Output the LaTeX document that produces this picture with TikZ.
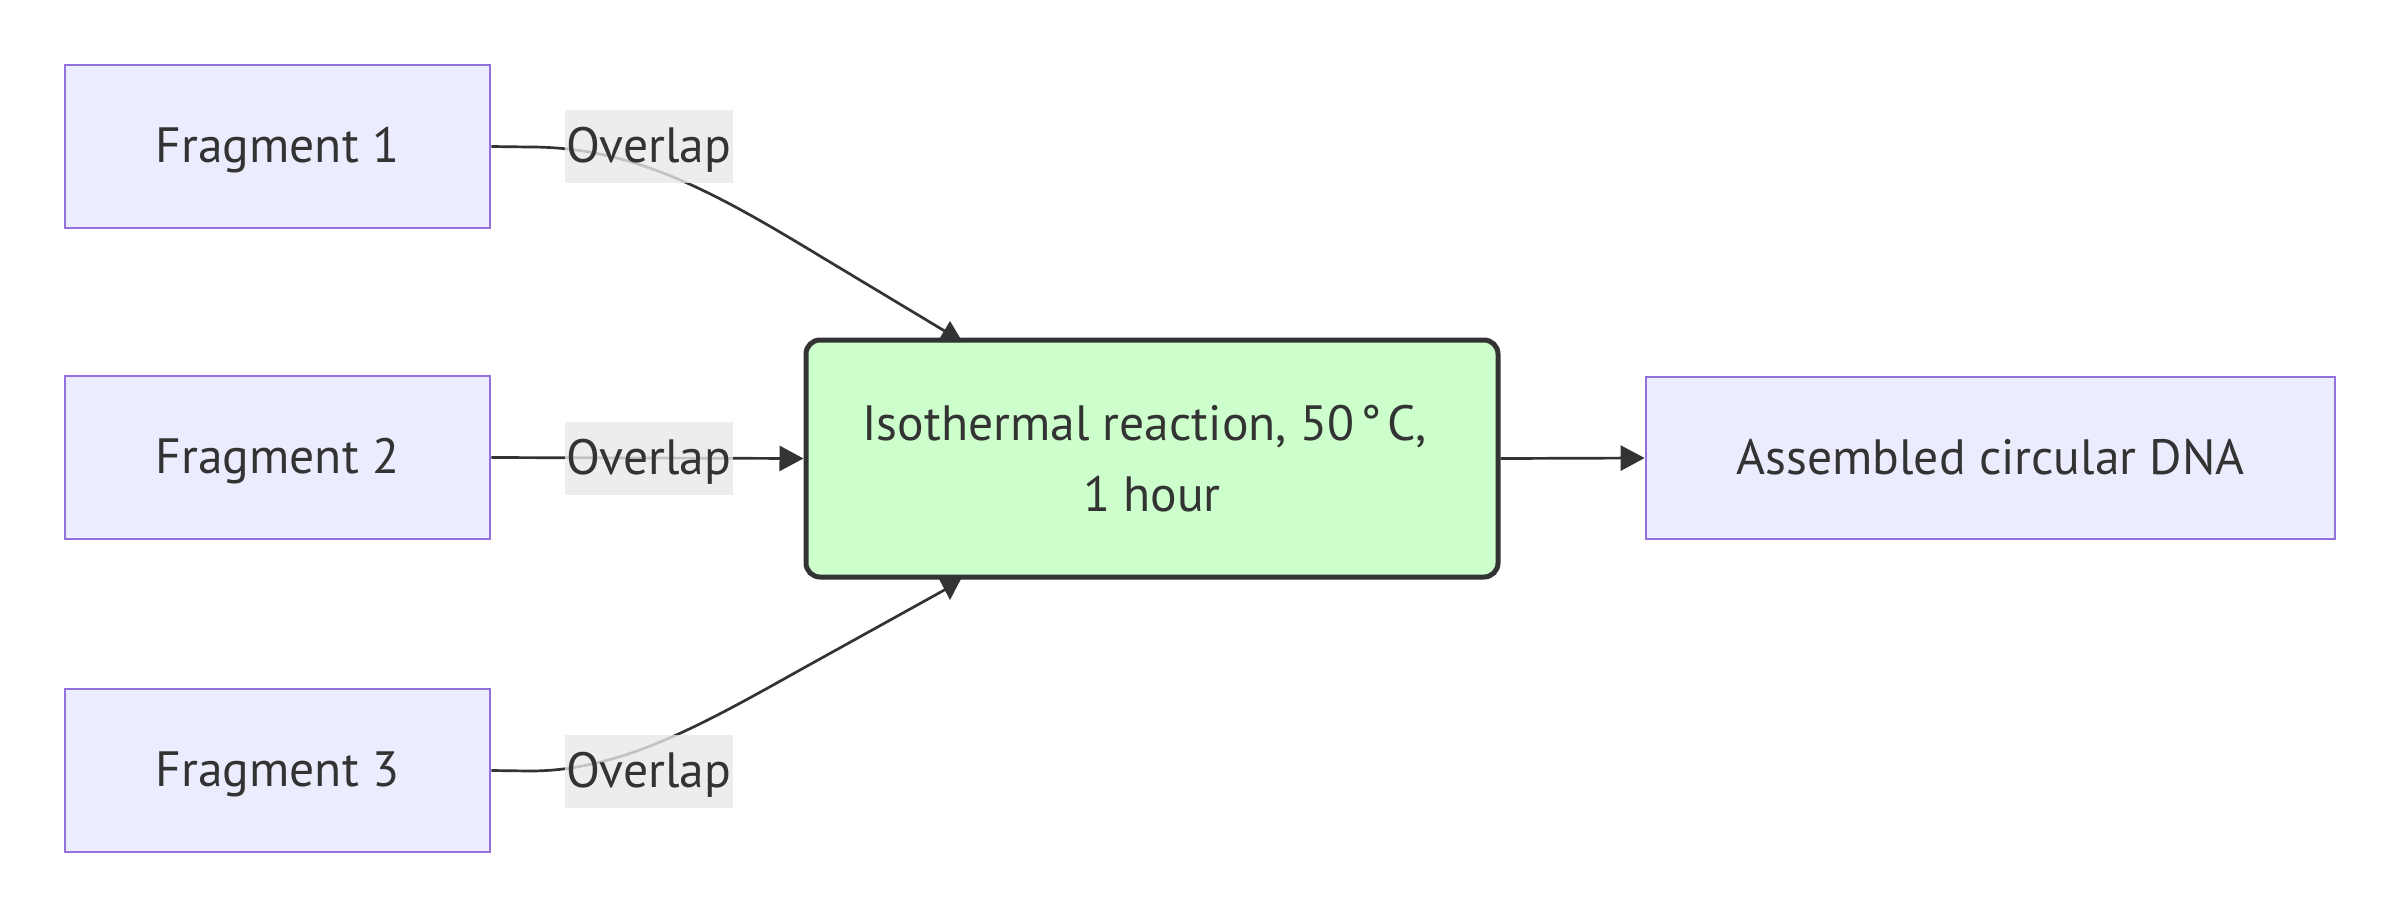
\documentclass[tikz,border=0pt]{standalone}
\usepackage{fontspec}
\setmainfont{PT Sans}
\usetikzlibrary{arrows.meta}
\definecolor{txt}{HTML}{333333}
\definecolor{nodefill}{HTML}{ECECFF}
\definecolor{nodeborder}{HTML}{9370DB}
\definecolor{greenfill}{HTML}{CCFFCC}
\definecolor{lblfill}{HTML}{E8E8E8}
\begin{document}
\begin{tikzpicture}[x=0.5pt,y=-0.5pt,
  frag/.style={draw=nodeborder, fill=nodefill, line width=1.35pt, inner sep=0pt,
    text=txt, font=\fontsize{24.8}{29}\selectfont, text height=18pt, text depth=2pt},
  proc/.style={draw=txt, fill=greenfill, line width=2.5pt, rounded corners=7pt,
    inner sep=0pt, text=txt, align=center, font=\fontsize{24.8}{35.5}\selectfont,
    minimum width=346pt, minimum height=118.5pt},
  lbl/.style={fill=lblfill, fill opacity=0.8, text opacity=1, text=txt, inner sep=0pt,
    minimum width=84pt, minimum height=36.5pt, font=\fontsize{24.8}{29}\selectfont,
    text height=18pt, text depth=2pt},
  edge/.style={draw=txt, line width=1.35pt},
  tip/.style={-{Triangle[length=12pt,width=12.5pt]}}
]
\useasboundingbox (0,0) rectangle (2400,917);
% nodes
\node[frag, minimum width=212.5pt, minimum height=81.5pt] (f1) at (277.5,146.5) {Fragment 1};
\node[frag, minimum width=212.5pt, minimum height=81.5pt] (f2) at (277.5,457.5) {Fragment 2};
\node[frag, minimum width=212.5pt, minimum height=81.5pt] (f3) at (277.5,770.5) {Fragment 3};
\node[proc] (g) at (1152,458.5) {Isothermal reaction, 50\kern3pt°\kern3pt C,\hspace*{0.3em}\\1 hour};
\node[frag, minimum width=344.5pt, minimum height=81pt] (dna) at (1990.5,458) {Assembled circular DNA};
% bend points
\coordinate (p1a) at (530,147);
\coordinate (p1b) at (625,147);
\coordinate (p1c) at (700,184);
\coordinate (p1d) at (800,244);
\coordinate (t1) at (948,333);
\coordinate (p3a) at (530,771);
\coordinate (p3b) at (620,771);
\coordinate (p3c) at (700,726);
\coordinate (p3d) at (800,670);
\coordinate (t3) at (948,588);
% edges
\draw[edge] (f1.east) -- (p1a) .. controls (p1b) and (p1c) .. (p1d) -- (t1);
\draw[edge] (f3.east) -- (p3a) .. controls (p3b) and (p3c) .. (p3d) -- (t3);
\draw[edge, tip] (f2.east) -- (g.west);
\draw[edge, tip] (g.east) -- (dna.west);
% arrow heads (as rendered)
\fill[txt] (937.5,342) -- (962.5,342) -- (950,321) -- cycle;
\fill[txt] (937.5,576) -- (962.5,576) -- (950,600) -- cycle;
% labels
\node[lbl] (l1) at (649,146.5) {Overlap};
\node[lbl] (l2) at (649,458) {Overlap};
\node[lbl] (l3) at (649,771) {Overlap};
\end{tikzpicture}
\end{document}
